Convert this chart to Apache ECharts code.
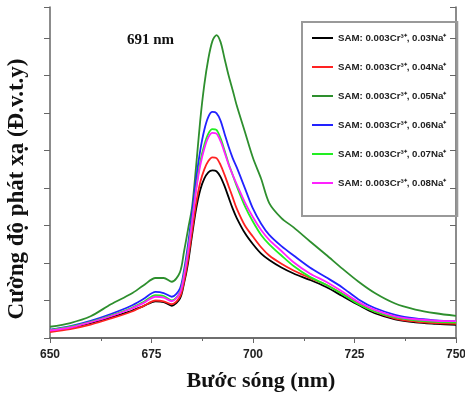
<!DOCTYPE html>
<html><head><meta charset="utf-8">
<script src="https://cdn.jsdelivr.net/npm/echarts@6/dist/echarts.min.js"></script>
<style>html,body{margin:0;padding:0;background:#fff}#c{width:465px;height:393px}</style>
</head><body><div id="c"></div>
<script>
var wavelengths = [650,655,660,665,670,673,676,678,680,682,683,684,685,686,687,688,689,690,691,692,693,694,695,696,698,700,702,704,707,710,714,718,722,726,730,735,740,745,750];
var seriesNames = ['SAM: 0.003Cr³⁺, 0.03Na⁺','SAM: 0.003Cr³⁺, 0.04Na⁺','SAM: 0.003Cr³⁺, 0.05Na⁺','SAM: 0.003Cr³⁺, 0.06Na⁺','SAM: 0.003Cr³⁺, 0.07Na⁺','SAM: 0.003Cr³⁺, 0.08Na⁺'];
var na003 = [0.2,0.28,0.4,0.55,0.72,0.85,0.98,0.96,0.86,1.05,1.45,2.0,2.75,3.45,3.95,4.25,4.42,4.47,4.45,4.3,4.05,3.75,3.45,3.2,2.8,2.5,2.25,2.08,1.88,1.72,1.55,1.36,1.12,0.88,0.66,0.5,0.42,0.38,0.35];
var na004 = [0.16,0.24,0.36,0.52,0.7,0.85,1.0,0.98,0.9,1.1,1.5,2.1,2.85,3.6,4.15,4.5,4.72,4.82,4.8,4.62,4.35,4.05,3.75,3.45,3.0,2.7,2.42,2.2,1.98,1.8,1.6,1.42,1.18,0.92,0.7,0.52,0.44,0.4,0.38];
var na005 = [0.3,0.4,0.58,0.9,1.18,1.4,1.6,1.6,1.5,1.75,2.3,2.9,3.5,4.6,5.8,6.75,7.45,7.92,8.08,7.9,7.45,7.0,6.61,6.2,5.5,4.8,4.25,3.6,3.2,2.95,2.58,2.22,1.85,1.5,1.2,0.92,0.76,0.66,0.59];
var na006 = [0.22,0.32,0.46,0.64,0.86,1.04,1.23,1.2,1.1,1.32,1.8,2.5,3.35,4.25,5.0,5.55,5.9,6.03,6.0,5.8,5.45,5.1,4.8,4.55,4.0,3.45,3.05,2.75,2.45,2.2,1.88,1.62,1.35,1.03,0.8,0.62,0.52,0.47,0.44];
var na007 = [0.21,0.3,0.43,0.6,0.8,0.96,1.14,1.12,1.0,1.22,1.7,2.35,3.15,4.0,4.7,5.15,5.45,5.57,5.55,5.33,5.0,4.65,4.35,4.05,3.52,3.1,2.75,2.5,2.2,1.92,1.63,1.42,1.17,0.9,0.7,0.55,0.47,0.43,0.41];
var na008 = [0.2,0.28,0.42,0.58,0.78,0.93,1.1,1.08,0.98,1.2,1.65,2.3,3.1,3.95,4.6,5.05,5.35,5.47,5.45,5.25,4.95,4.62,4.35,4.1,3.62,3.22,2.88,2.62,2.32,2.02,1.72,1.5,1.24,0.96,0.75,0.58,0.5,0.46,0.45];
var xTicks = [650,675,700,725,750];
var colors = ['#000000','#ff2222','#2e8f2e','#2222ff','#22ee22','#ff22ff'];
var allValues = [na003,na004,na005,na006,na007,na008];

var chart = echarts.init(document.getElementById('c'), null, {renderer:'canvas'});
var series = allValues.map(function(vals,i){
  return {
    name: seriesNames[i], type:'line', symbol:'none', smooth:0.3,
    lineStyle:{color:colors[i], width:1.8}, itemStyle:{color:colors[i]},
    data: wavelengths.map(function(w,j){return [w, vals[j]];})
  };
});
var axisCol = '#666';
chart.setOption({
  animation:false,
  grid:{left:50,right:9,top:7,bottom:55,containLabel:false,outerBoundsMode:'none'},
  legend:{
    orient:'vertical', left:302, top:22,
    data: seriesNames.map(function(n){return {name:n, icon:'rect'};}),
    itemWidth:21, itemHeight:2, itemGap:17,
    padding:[10,11,27,10],
    borderColor:'#999', borderWidth:2,
    textStyle:{fontFamily:'Liberation Sans', fontWeight:'bold', fontSize:9.7, color:'#222', lineHeight:12}
  },
  xAxis:[{
    type:'value', min:650, max:750, interval:25,
    name:'Bước sóng (nm)', nameLocation:'middle', nameGap:32,
    nameTextStyle:{fontFamily:'Liberation Serif', fontWeight:'bold', fontSize:22, color:'#111', padding:[0,0,0,16]},
    axisLine:{lineStyle:{color:axisCol, width:1.5}},
    axisTick:{inside:false, length:5, lineStyle:{color:axisCol}},
    minorTick:{show:true, splitNumber:2, length:3, lineStyle:{color:axisCol}},
    axisLabel:{fontFamily:'Liberation Sans', fontWeight:'bold', fontSize:12, color:'#222', margin:11,
      formatter:function(v){return xTicks.indexOf(v)>=0? String(v):'';}},
    splitLine:{show:false}
  },{
    type:'value', position:'top', min:650, max:750, interval:25,
    axisLine:{lineStyle:{color:axisCol, width:1.5}}, axisTick:{show:false}, axisLabel:{show:false}, splitLine:{show:false}
  }],
  yAxis:[{
    type:'value', min:0, max:8.83, interval:1,
    axisLine:{show:true, lineStyle:{color:axisCol, width:1.5}},
    axisTick:{show:true, length:6, lineStyle:{color:axisCol}},
    axisLabel:{show:false}, splitLine:{show:false}
  },{
    type:'value', position:'right', min:0, max:8.83, interval:1,
    axisLine:{show:true, lineStyle:{color:axisCol, width:1.5}},
    axisTick:{show:true, inside:true, length:6, lineStyle:{color:axisCol}},
    axisLabel:{show:false}, splitLine:{show:false}
  }],
  graphic:[
    {type:'text', left:127, top:33, style:{text:'691 nm', font:'bold 15px "Liberation Serif"', fill:'#111'}},
    {type:'text', x:17, y:189, rotation:Math.PI/2, style:{text:'Cường độ phát xạ (Đ.v.t.y)', font:'bold 23px "Liberation Serif"', fill:'#111', textAlign:'center', textVerticalAlign:'middle'}}
  ],
  series: series
});
</script></body></html>
